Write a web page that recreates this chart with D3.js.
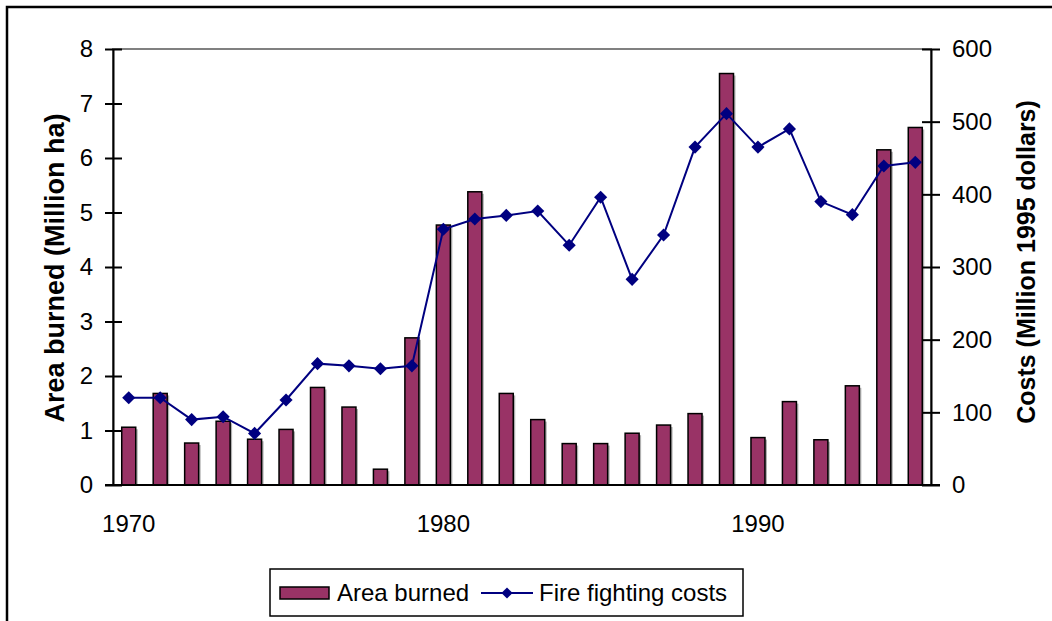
<!DOCTYPE html>
<html>
<head>
<meta charset="utf-8">
<script src="https://cdn.jsdelivr.net/npm/d3@7"></script>
<style>
  body { margin: 0; background: #fff; }
  svg text { font-family: "Liberation Sans", Arial, sans-serif; fill: #000; }
</style>
</head>
<body>
<svg id="chart" width="1052" height="621"></svg>
<script>
// data
var years = [1970, 1971, 1972, 1973, 1974, 1975, 1976, 1977, 1978, 1979,
             1980, 1981, 1982, 1983, 1984, 1985, 1986, 1987, 1988, 1989,
             1990, 1991, 1992, 1993, 1994, 1995];
var areaBurned = [1.06, 1.68, 0.77, 1.17, 0.84, 1.02, 1.79, 1.43, 0.29, 2.70,
                  4.77, 5.38, 1.68, 1.20, 0.76, 0.76, 0.95, 1.10, 1.31, 7.55,
                  0.87, 1.53, 0.83, 1.82, 6.15, 6.56];
var costs = [120, 120, 90, 94, 71, 117, 167, 164, 160, 164,
             352, 366, 371, 377, 330, 396, 283, 344, 465, 511,
             465, 490, 390, 372, 439, 444];
var leftTicks = [0, 1, 2, 3, 4, 5, 6, 7, 8];
var rightTicks = [0, 100, 200, 300, 400, 500, 600];
var yearLabels = [1970, 1980, 1990];

var barColor = "#993366";
var lineColor = "#000080";

var svg = d3.select("#chart");
var plotLeft = 113, plotRight = 931, plotTop = 49, plotBottom = 485;

// outer frame (runs off the right and bottom edges)
svg.append("rect")
    .attr("x", 7).attr("y", 7)
    .attr("width", 1200).attr("height", 800)
    .attr("fill", "none").attr("stroke", "#000").attr("stroke-width", 2.5);

var x = d3.scaleBand()
    .domain(years)
    .range([plotLeft, plotRight])
    .paddingInner(0.555)
    .paddingOuter(0.2775);
var yLeft = d3.scaleLinear().domain([0, 8]).range([plotBottom, plotTop]);
var yRight = d3.scaleLinear().domain([0, 600]).range([plotBottom, plotTop]);

// plot area border (only the top shows)
svg.append("rect")
    .attr("x", plotLeft).attr("y", plotTop)
    .attr("width", plotRight - plotLeft).attr("height", plotBottom - plotTop)
    .attr("fill", "none").attr("stroke", "#808080").attr("stroke-width", 2);

// bars with a thin grey shadow
var bars = svg.append("g");
bars.selectAll("rect.shadow")
    .data(areaBurned)
    .join("rect")
    .attr("class", "shadow")
    .attr("x", function(d, i) { return x(years[i]) + 2; })
    .attr("y", function(d) { return yLeft(d) + 2; })
    .attr("width", x.bandwidth())
    .attr("height", function(d) { return plotBottom - yLeft(d) - 2; })
    .attr("fill", "#b0b0b0");
bars.selectAll("rect.bar")
    .data(areaBurned)
    .join("rect")
    .attr("class", "bar")
    .attr("x", function(d, i) { return x(years[i]); })
    .attr("y", function(d) { return yLeft(d); })
    .attr("width", x.bandwidth())
    .attr("height", function(d) { return plotBottom - yLeft(d); })
    .attr("fill", barColor)
    .attr("stroke", "#000")
    .attr("stroke-width", 1.5);

// axes
var fontSize = 24;
var gLeft = svg.append("g")
    .attr("transform", "translate(" + plotLeft + ",0)")
    .call(d3.axisLeft(yLeft).tickValues(leftTicks).tickSizeInner(8).tickSizeOuter(0).tickPadding(12));
var gRight = svg.append("g")
    .attr("transform", "translate(" + plotRight + ",0)")
    .call(d3.axisRight(yRight).tickValues(rightTicks).tickSizeInner(9).tickSizeOuter(0).tickPadding(12));
gLeft.selectAll(".tick line").attr("x1", 9);
gRight.selectAll(".tick line").attr("x1", -9);
[gLeft, gRight].forEach(function(g) {
    g.select(".domain").attr("stroke", "#000").attr("stroke-width", 2);
    g.selectAll(".tick line").attr("stroke", "#000").attr("stroke-width", 2);
    g.selectAll(".tick text").attr("font-size", fontSize).attr("fill", "#000")
        .attr("font-family", '"Liberation Sans", Arial, sans-serif');
});

// x axis
svg.append("line")
    .attr("x1", plotLeft - 8).attr("x2", plotRight + 9)
    .attr("y1", plotBottom).attr("y2", plotBottom)
    .attr("stroke", "#000").attr("stroke-width", 2);
svg.append("g").selectAll("text")
    .data(yearLabels)
    .join("text")
    .attr("x", function(d) { return x(d) + x.bandwidth() / 2; })
    .attr("y", 532)
    .attr("text-anchor", "middle")
    .attr("font-size", fontSize)
    .text(function(d) { return d; });

// cost line and diamonds
var line = d3.line()
    .x(function(d, i) { return x(years[i]) + x.bandwidth() / 2; })
    .y(function(d) { return yRight(d); });
svg.append("path")
    .datum(costs)
    .attr("d", line)
    .attr("fill", "none")
    .attr("stroke", lineColor)
    .attr("stroke-width", 2);
var diamond = d3.symbol().type(d3.symbolDiamond2).size(110);
svg.append("g").selectAll("path")
    .data(costs)
    .join("path")
    .attr("d", diamond)
    .attr("transform", function(d, i) {
        return "translate(" + (x(years[i]) + x.bandwidth() / 2) + "," + yRight(d) + ")";
    })
    .attr("fill", lineColor);

// axis titles
svg.append("text")
    .attr("transform", "translate(64,268) rotate(-90)")
    .attr("text-anchor", "middle")
    .attr("font-size", 27)
    .attr("font-weight", "bold")
    .text("Area burned (Million ha)");
svg.append("text")
    .attr("transform", "translate(1035,262) rotate(-90)")
    .attr("text-anchor", "middle")
    .attr("font-size", 25)
    .attr("font-weight", "bold")
    .text("Costs (Million 1995 dollars)");

// legend
var legend = svg.append("g");
legend.append("rect")
    .attr("x", 270).attr("y", 569)
    .attr("width", 473).attr("height", 47)
    .attr("fill", "#fff").attr("stroke", "#000").attr("stroke-width", 1.5);
legend.append("rect")
    .attr("x", 280).attr("y", 587)
    .attr("width", 49).attr("height", 12)
    .attr("fill", barColor).attr("stroke", "#000").attr("stroke-width", 1.5);
legend.append("text")
    .attr("x", 337).attr("y", 601)
    .attr("font-size", fontSize)
    .text("Area burned");
legend.append("line")
    .attr("x1", 481).attr("x2", 533)
    .attr("y1", 593).attr("y2", 593)
    .attr("stroke", lineColor).attr("stroke-width", 2);
legend.append("path")
    .attr("d", d3.symbol().type(d3.symbolDiamond2).size(80))
    .attr("transform", "translate(507,593)")
    .attr("fill", lineColor);
legend.append("text")
    .attr("x", 539).attr("y", 601)
    .attr("font-size", fontSize)
    .text("Fire fighting costs");
</script>
</body>
</html>
